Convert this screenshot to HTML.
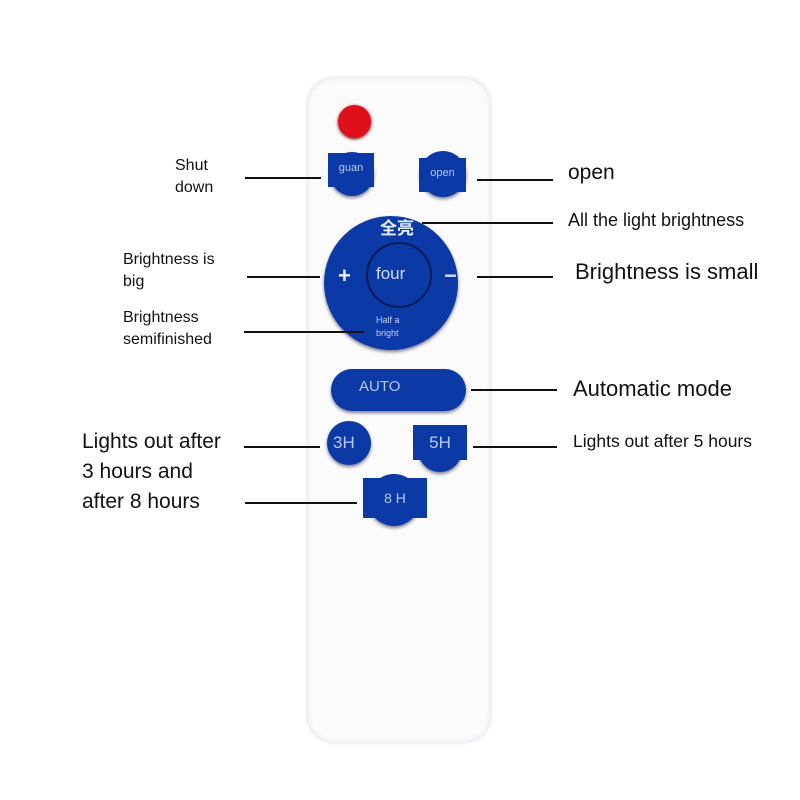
<!DOCTYPE html><html><head><meta charset="utf-8"><style>
body{margin:0;width:800px;height:800px;background:#fff;position:relative;overflow:hidden;font-family:"Liberation Sans","Noto Sans CJK SC",sans-serif}
.a{position:absolute}
.t{position:absolute;color:#111;font-size:16px;line-height:22px}
.l{position:absolute;height:2px;background:#111}
.b{position:absolute;background:#0b3aa6;color:#b8c8f0}
.c{border-radius:50%;box-shadow:0 2px 3px rgba(0,0,40,.5)}
</style></head><body>
<div class="a" style="left:308px;top:78px;width:182px;height:664px;border-radius:26px;background:#fbfbfc;box-shadow:0 0 4px #d0d4dc,inset 0 0 6px #e8eaf0"></div>
<div class="a" style="left:338px;top:105px;width:33px;height:33px;border-radius:50%;background:#e0101a;box-shadow:0 1px 3px #600"></div>
<div class="b c" style="left:330px;top:152px;width:44px;height:44px"></div>
<div class="b" style="left:328px;top:153px;width:46px;height:34px;font-size:11px;text-align:center;line-height:30px">guan</div>
<div class="b c" style="left:420px;top:151px;width:46px;height:46px"></div>
<div class="b" style="left:419px;top:158px;width:47px;height:34px;font-size:11px;text-align:center;line-height:30px">open</div>
<div class="b c" style="left:324px;top:216px;width:134px;height:134px"></div>
<div class="a" style="left:366px;top:242px;width:66px;height:66px;border-radius:50%;border:2px solid #051a55;box-sizing:border-box"></div>
<div class="a" style="left:380px;top:214px;color:#e8eefc;font-size:17px;font-weight:bold">全亮</div>
<div class="a" style="left:376px;top:264px;color:#d0dcf8;font-size:17px">four</div>
<div class="a" style="left:338px;top:263px;color:#e8eefc;font-size:22px;font-weight:bold">+</div>
<div class="a" style="left:444px;top:263px;color:#d0dcf8;font-size:22px;font-weight:bold">−</div>
<div class="a" style="left:376px;top:314px;color:#c0d0f4;font-size:9px;line-height:13px">Half a<br>bright</div>
<div class="b" style="left:331px;top:369px;width:135px;height:42px;border-radius:21px;box-shadow:0 2px 3px rgba(0,0,40,.5);font-size:15px;line-height:36px;padding-left:28px;box-sizing:border-box">AUTO</div>
<div class="b c" style="left:327px;top:421px;width:44px;height:44px;font-size:17px;line-height:44px;padding-left:6px;box-sizing:border-box">3H</div>
<div class="b c" style="left:418px;top:428px;width:44px;height:44px"></div>
<div class="b" style="left:413px;top:425px;width:54px;height:35px;font-size:17px;line-height:35px;text-align:center">5H</div>
<div class="b c" style="left:368px;top:474px;width:52px;height:52px"></div>
<div class="b" style="left:363px;top:478px;width:64px;height:40px;font-size:14px;line-height:40px;text-align:center">8 H</div>
<div class="l" style="left:245px;top:177px;width:76px"></div>
<div class="l" style="left:477px;top:179px;width:76px"></div>
<div class="l" style="left:422px;top:222px;width:131px"></div>
<div class="l" style="left:247px;top:276px;width:73px"></div>
<div class="l" style="left:477px;top:276px;width:76px"></div>
<div class="l" style="left:244px;top:331px;width:120px"></div>
<div class="l" style="left:471px;top:389px;width:86px"></div>
<div class="l" style="left:244px;top:446px;width:76px"></div>
<div class="l" style="left:473px;top:446px;width:84px"></div>
<div class="l" style="left:245px;top:502px;width:112px"></div>
<div class="t" style="left:175px;top:155px">Shut<br>down</div>
<div class="t" style="left:568px;top:160px;font-size:21px;line-height:26px">open</div>
<div class="t" style="left:568px;top:209px;font-size:18px">All the light brightness</div>
<div class="t" style="left:123px;top:249px">Brightness is<br>big</div>
<div class="t" style="left:575px;top:259px;font-size:22px;line-height:26px">Brightness is small</div>
<div class="t" style="left:123px;top:307px">Brightness<br>semifinished</div>
<div class="t" style="left:573px;top:376px;font-size:22px;line-height:26px">Automatic mode</div>
<div class="t" style="left:82px;top:427px;font-size:21px;line-height:30px">Lights out after<br>3 hours and<br>after 8 hours</div>
<div class="t" style="left:573px;top:430px;font-size:17.5px">Lights out after 5 hours</div>
</body></html>
